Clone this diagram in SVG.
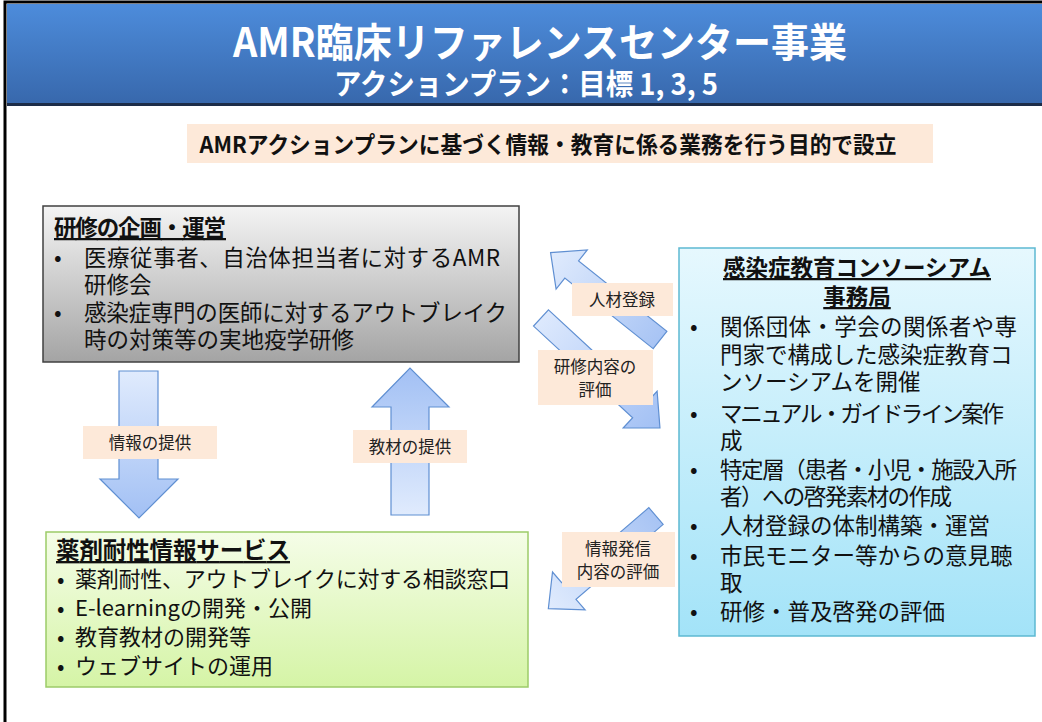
<svg xmlns="http://www.w3.org/2000/svg" width="1042" height="722" viewBox="0 0 1042 722">
<defs>
<linearGradient id="hdr" x1="0" y1="0" x2="0" y2="1"><stop offset="0" stop-color="#4d8cdb"/><stop offset="1" stop-color="#3767ab"/></linearGradient>
<linearGradient id="gGray" x1="0" y1="0" x2="0" y2="1"><stop offset="0" stop-color="#f4f4f4"/><stop offset="1" stop-color="#a4a4a4"/></linearGradient>
<linearGradient id="gCyan" x1="0" y1="0" x2="0" y2="1"><stop offset="0" stop-color="#e6f8fe"/><stop offset="1" stop-color="#a3e3f8"/></linearGradient>
<linearGradient id="gGreen" x1="0" y1="0" x2="0" y2="1"><stop offset="0" stop-color="#f5fde8"/><stop offset="1" stop-color="#d5f4a6"/></linearGradient>
<linearGradient id="aDark" x1="0" y1="0" x2="1" y2="0"><stop offset="0" stop-color="#dde9fd"/><stop offset="1" stop-color="#a2c0f4"/></linearGradient>
<linearGradient id="aLight" x1="0" y1="0" x2="1" y2="0"><stop offset="0" stop-color="#a8c4f4"/><stop offset="1" stop-color="#e0ebfd"/></linearGradient>
<linearGradient id="aDown" x1="0" y1="0" x2="0" y2="1"><stop offset="0" stop-color="#e0ebfd"/><stop offset="1" stop-color="#a2c0f4"/></linearGradient>
<linearGradient id="aUp" x1="0" y1="0" x2="0" y2="1"><stop offset="0" stop-color="#a2c0f4"/><stop offset="1" stop-color="#e0ebfd"/></linearGradient>
</defs>
<style>
text{font-family:"Noto Sans CJK JP","Liberation Sans",sans-serif;fill:#111;}
.t{font-size:22px;}
.tg{font-size:22.5px;}
.tr{font-size:22.5px;}
.h{font-size:22.5px;font-weight:bold;text-decoration:underline;}
.lbl{font-size:16.5px;fill:#222;}
.pe{fill:#fde9d9;}
.arr{stroke:#5f8fd2;stroke-width:1.2;}
</style>
<rect width="1042" height="722" fill="#ffffff"/>
<!-- frame -->
<rect x="5" y="2" width="1040" height="730" fill="none" stroke="#000" stroke-width="3"/>
<!-- header -->
<g id="header">
<rect x="7" y="4" width="1035" height="102" fill="url(#hdr)"/>
<rect x="7" y="103" width="1035" height="3" fill="#1c2c48"/>
<text x="540" y="57" text-anchor="middle" font-size="40" font-weight="bold" textLength="614" lengthAdjust="spacingAndGlyphs" style="fill:#fff">AMR臨床リファレンスセンター事業</text>
<text x="526" y="95" text-anchor="middle" font-size="29" font-weight="bold" textLength="384" lengthAdjust="spacingAndGlyphs" style="fill:#fff">アクションプラン：目標 1, 3, 5</text>
</g>
<g id="banner">
<rect x="187" y="124" width="746" height="39" class="pe"/>
<text x="548" y="153" text-anchor="middle" font-size="23" font-weight="bold" textLength="697" lengthAdjust="spacingAndGlyphs">AMRアクションプランに基づく情報・教育に係る業務を行う目的で設立</text>
</g>
<!-- connectors -->
<g id="connectors">
<polygon class="arr" fill="url(#aDown)" points="119,371 158,371 158,479 178,479 139,518 100,479 119,479"/>
<polygon class="arr" fill="url(#aUp)" points="391,515 429,515 429,407 449,407 410,368 372,407 391,407"/>
<path class="arr" fill="url(#aLight)" transform="translate(660,340) rotate(218.6)" d="M0,-11 H113 V-25 L140,0 L113,25 V11 H0 Z"/>
<path class="arr" fill="url(#aDark)" transform="translate(541,318) rotate(42.75)" d="M0,-11 H135 V-25 L162,0 L135,25 V11 H0 Z"/>
<path class="arr" fill="url(#aLight)" transform="translate(656,516) rotate(139.3)" d="M0,-11 H115 V-25 L142,0 L115,25 V11 H0 Z"/>
<g id="lbl-info">
<rect x="83" y="426" width="134" height="33" class="pe"/>
<text x="150" y="449" text-anchor="middle" class="lbl">情報の提供</text>
</g>
<g id="lbl-mat">
<rect x="353" y="430" width="114" height="33" class="pe"/>
<text x="410" y="453" text-anchor="middle" class="lbl">教材の提供</text>
</g>
<g id="lbl-reg">
<rect x="572" y="283" width="101" height="33" class="pe"/>
<text x="622" y="306" text-anchor="middle" class="lbl">人材登録</text>
</g>
<g id="lbl-eval">
<rect x="538" y="350" width="115" height="55" class="pe"/>
<text x="595" y="373" text-anchor="middle" class="lbl">研修内容の</text>
<text x="595" y="396" text-anchor="middle" class="lbl">評価</text>
</g>
<g id="lbl-send">
<rect x="562" y="532" width="113" height="55" class="pe"/>
<text x="618" y="555" text-anchor="middle" class="lbl">情報発信</text>
<text x="618" y="578" text-anchor="middle" class="lbl">内容の評価</text>
</g>
</g>
<!-- nodes -->
<g id="training">
<rect x="43" y="206" width="476" height="156" fill="url(#gGray)" stroke="#404040" stroke-width="1.5"/>
<text x="54" y="236" class="h" textLength="172">研修の企画・運営</text>
<text x="54" y="266" class="tg">•</text><text x="84" y="266" class="tg" textLength="416">医療従事者、自治体担当者に対するAMR</text>
<text x="84" y="293" class="tg">研修会</text>
<text x="54" y="321" class="tg">•</text><text x="84" y="321" class="tg" textLength="423">感染症専門の医師に対するアウトブレイク</text>
<text x="84" y="348" class="tg">時の対策等の実地疫学研修</text>
</g>
<g id="consortium">
<rect x="679" y="248" width="356" height="388" fill="url(#gCyan)" stroke="#5db9d2" stroke-width="1.5"/>
<text x="857" y="276" text-anchor="middle" class="h">感染症教育コンソーシアム</text>
<text x="857" y="305" text-anchor="middle" class="h">事務局</text>
<text x="690" y="335" class="tr">•</text><text x="720" y="335" class="tr" textLength="297">関係団体・学会の関係者や専</text>
<text x="720" y="363" class="tr">門家で構成した感染症教育コ</text>
<text x="720" y="390" class="tr">ンソーシアムを開催</text>
<text x="690" y="422" class="tr">•</text><text x="720" y="422" class="tr" textLength="284">マニュアル・ガイドライン案作</text>
<text x="720" y="449" class="tr">成</text>
<text x="690" y="478" class="tr">•</text><text x="720" y="478" class="tr" textLength="297">特定層（患者・小児・施設入所</text>
<text x="720" y="505" class="tr" textLength="232">者）への啓発素材の作成</text>
<text x="690" y="534" class="tr">•</text><text x="720" y="534" class="tr">人材登録の体制構築・運営</text>
<text x="690" y="564" class="tr">•</text><text x="720" y="564" class="tr">市民モニター等からの意見聴</text>
<text x="720" y="591" class="tr">取</text>
<text x="690" y="620" class="tr">•</text><text x="720" y="620" class="tr">研修・普及啓発の評価</text>
</g>
<g id="amr-info">
<rect x="46" y="532" width="482" height="155" fill="url(#gGreen)" stroke="#9ccb68" stroke-width="1.5"/>
<text x="56" y="559" class="h" style="font-size:23.5px" textLength="234">薬剤耐性情報サービス</text>
<text x="57" y="587" class="t">•</text><text x="75" y="587" class="t" textLength="435">薬剤耐性、アウトブレイクに対する相談窓口</text>
<text x="57" y="616" class="t">•</text><text x="75" y="616" class="t">E-learningの開発・公開</text>
<text x="57" y="645" class="t">•</text><text x="75" y="645" class="t">教育教材の開発等</text>
<text x="57" y="674" class="t">•</text><text x="75" y="674" class="t">ウェブサイトの運用</text>
</g>
</svg>
